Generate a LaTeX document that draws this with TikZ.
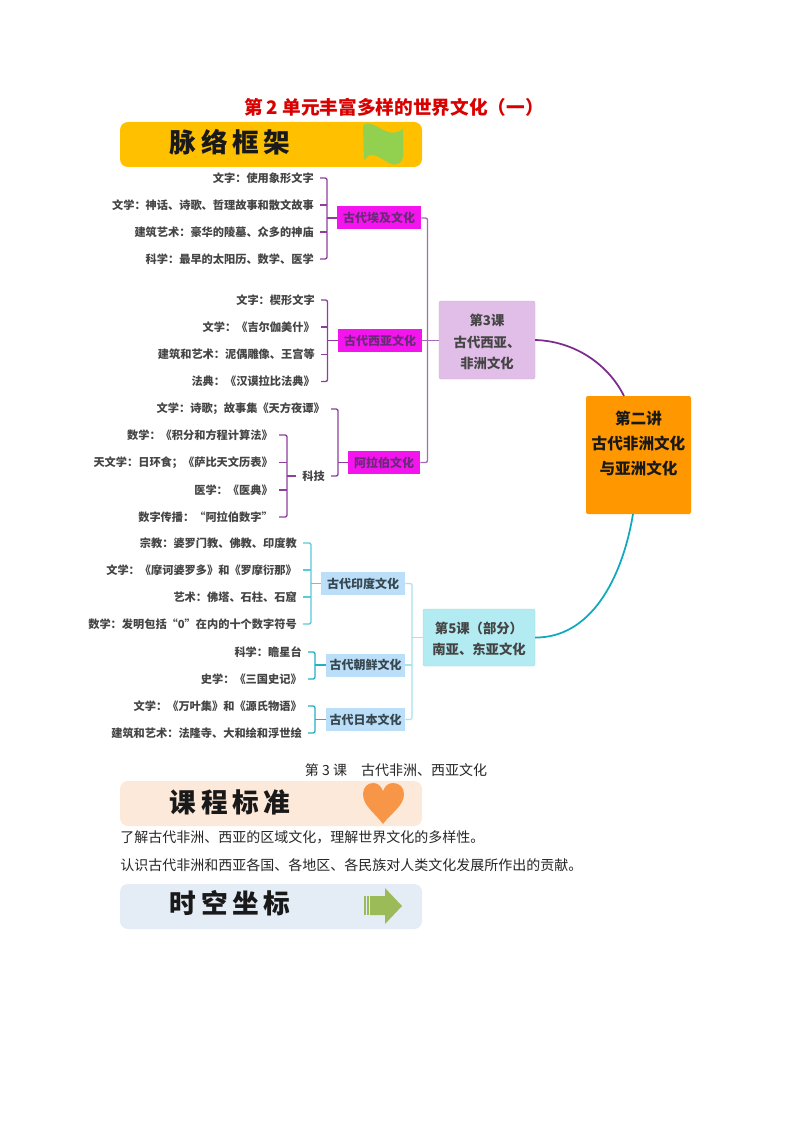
\documentclass[tikz,border=0pt]{standalone}
\usepackage{fontspec}
\setmainfont{Noto Sans CJK SC}
\definecolor{txt}{HTML}{454545}
\definecolor{purp}{HTML}{8E3F9E}
\definecolor{purpT}{HTML}{A56BB3}
\definecolor{curveP}{HTML}{7B2A8E}
\definecolor{tealA}{HTML}{5CCAD8}
\definecolor{tealB}{HTML}{22B0C6}
\definecolor{tealT}{HTML}{A6E3EC}
\definecolor{curveT}{HTML}{0FA9BE}
\definecolor{magbox}{HTML}{F414EE}
\definecolor{magtxt}{HTML}{6A2A78}
\definecolor{bluebox}{HTML}{BBDEF9}
\definecolor{ltxt}{HTML}{37474F}
\definecolor{bannerA}{HTML}{FFC000}
\definecolor{bannerB}{HTML}{FDE9D9}
\definecolor{bannerC}{HTML}{E4ECF6}
\definecolor{flagG}{HTML}{92D050}
\definecolor{heartO}{HTML}{F79646}
\definecolor{arrowG}{HTML}{9BBB59}
\definecolor{lessonP}{HTML}{E1BEE7}
\definecolor{lessonT}{HTML}{B2EBF2}
\definecolor{mainO}{HTML}{FF9800}
\tikzset{
  leaf/.style={anchor=east,inner xsep=4.5pt,inner ysep=1pt,text=txt,font=\fontsize{8.4}{10}\selectfont\bfseries},
  magnode/.style={fill=magbox,text=magtxt,inner sep=0pt,font=\fontsize{9}{10}\selectfont\bfseries,minimum height=23*0.75pt},
  bluenode/.style={fill=bluebox,text=ltxt,inner sep=0pt,font=\fontsize{9}{10}\selectfont\bfseries,minimum height=23*0.75pt},
  lesson/.style={rounded corners=1.5pt,text=txt,inner sep=0pt,align=center,font=\fontsize{10}{16}\selectfont\bfseries},
  banner/.style={rounded corners=6pt,inner sep=0pt,minimum width=302*0.75pt,minimum height=45*0.75pt},
  bantext/.style={inner sep=0pt,font=\fontsize{20}{24}\selectfont\bfseries,text=black!90},
  body/.style={inner sep=0pt,anchor=west,font=\fontsize{10.5}{12}\selectfont,text=black!85},
  conP/.style={draw=purp,line width=1pt,rounded corners=1.5pt},
  conPT/.style={draw=purpT,line width=1pt,rounded corners=1.5pt},
  conA/.style={draw=tealA,line width=1pt,rounded corners=1.5pt},
  conB/.style={draw=tealB,line width=1pt,rounded corners=1.5pt},
  conT/.style={draw=tealT,line width=0.9pt,rounded corners=1.5pt},
}
\begin{document}
\begin{tikzpicture}[x=0.75pt,y=-0.75pt]
\useasboundingbox (0,0) rectangle (794,1123);
\fill[white] (0,0) rectangle (794,1123);

% title
\node[inner sep=0pt,text=red!85!black,font=\fontsize{14}{16}\selectfont\bfseries] (title) at (394,107) {第 2 单元丰富多样的世界文化（一）};

% banners
\node[banner,fill=bannerA] (ban1) at (271,144.5) {};
\node[bantext] (ban1t) at (230,142) {脉\hspace{3.5pt}络\hspace{3.5pt}框\hspace{3.5pt}架};
\fill[flagG] (363,127) .. controls (363,122) and (370,123) .. (376,126)
  .. controls (384,130) and (392,137) .. (403,129)
  -- (403,157) .. controls (402,163) and (397,166) .. (391,164)
  .. controls (384,161) and (379,155) .. (372,155)
  .. controls (368,155) and (366,158) .. (364,160) -- cycle;

\node[banner,fill=bannerB] (ban2) at (271,803.5) {};
\node[bantext] (ban2t) at (230,802) {课\hspace{3.5pt}程\hspace{3.5pt}标\hspace{3.5pt}准};
\fill[heartO] (383,824) .. controls (375,813) and (363,806) .. (363,794)
  .. controls (363,787) and (368,783) .. (373,783)
  .. controls (378,783) and (381,786) .. (383,791)
  .. controls (385,786) and (388,783) .. (393,783)
  .. controls (399,783) and (404,787) .. (404,794)
  .. controls (404,806) and (391,813) .. (383,824) -- cycle;

\node[banner,fill=bannerC] (ban3) at (271,906.5) {};
\node[bantext] (ban3t) at (230,903) {时\hspace{3.5pt}空\hspace{3.5pt}坐\hspace{3.5pt}标};
\fill[arrowG] (363.5,896) rectangle (365.5,915);
\fill[arrowG] (366.5,896) rectangle (368.5,915);
\fill[arrowG] (370,896) -- (385,896) -- (385,888) -- (402,906) -- (385,924) -- (385,915) -- (370,915) -- cycle;

% central nodes
\node[lesson,fill=mainO,text=black!90,minimum width=105*0.75pt,minimum height=118*0.75pt,font=\fontsize{11.7}{18.75}\selectfont\bfseries] (main) at (638.5,455) {第二讲\\古代非洲文化\\与亚洲文化\\[0pt]\mbox{}};
\node[lesson,fill=lessonP,draw=lessonP!92!black,line width=0.3pt,minimum width=96*0.75pt,minimum height=78*0.75pt] (L3) at (487,340) {\rule{0pt}{11.8pt}第3课\\古代西亚、\\非洲文化};
\node[lesson,fill=lessonT,draw=lessonT!92!black,line width=0.3pt,minimum width=112*0.75pt,minimum height=57*0.75pt] (L5) at (479,637.5) {\rule{0pt}{10.3pt}第5课（部分）\\南亚、东亚文化};
\coordinate (mainTop) at (624,396);
\coordinate (mainBot) at (633,514);
\draw[curveP,line width=1.3pt] (L3.east) .. controls (572,341) and (607,362) .. (mainTop);
\draw[curveT,line width=1.3pt] (L5.east) .. controls (590,638) and (622,580) .. (mainBot);

% group boxes
\node[magnode,minimum width=84*0.75pt] (eg) at (379,218) {古代埃及文化};
\node[magnode,minimum width=84*0.75pt] (wa) at (380,340.5) {古代西亚文化};
\node[magnode,minimum width=72*0.75pt] (ar) at (384,462.5) {阿拉伯文化};
\node[bluenode,minimum width=84*0.75pt] (in) at (363,583.5) {古代印度文化};
\node[bluenode,minimum width=79*0.75pt] (ko) at (365.5,665) {古代朝鲜文化};
\node[bluenode,minimum width=79*0.75pt] (jp) at (365.5,719.5) {古代日本文化};

% leaves: Egypt
\node[leaf] (eg1) at (320,178) {文字：使用象形文字};
\node[leaf] (eg2) at (320,205) {文学：神话、诗歌、哲理故事和散文故事};
\node[leaf] (eg3) at (320,232) {建筑艺术：豪华的陵墓、众多的神庙};
\node[leaf] (eg4) at (320,259) {科学：最早的太阳历、数学、医学};
% West Asia
\node[leaf] (wa1) at (321,300) {文字：楔形文字};
\node[leaf] (wa2) at (321,327) {文学：《吉尔伽美什》};
\node[leaf] (wa3) at (321,354.5) {建筑和艺术：泥偶雕像、王宫等};
\node[leaf] (wa4) at (321,381.5) {法典：《汉谟拉比法典》};
% Arabic
\node[leaf] (ar1) at (331,409) {文学：诗歌；故事集《天方夜谭》};
\node[leaf] (ar2) at (331,476) {科技};
\node[leaf] (sc1) at (279,435) {数学：《积分和方程计算法》};
\node[leaf] (sc2) at (279,462.5) {天文学：日环食；《萨比天文历表》};
\node[leaf] (sc3) at (279,490) {医学：《医典》};
\node[leaf] (sc4) at (279,517) {数字传播：“阿拉伯数字”};
% India
\node[leaf] (in1) at (303,543) {宗教：婆罗门教、佛教、印度教};
\node[leaf] (in2) at (303,570) {文学：《摩诃婆罗多》和《罗摩衍那》};
\node[leaf] (in3) at (303,597) {艺术：佛塔、石柱、石窟};
\node[leaf] (in4) at (303,624) {数学：发明包括“0”在内的十个数字符号};
% Korea, Japan
\node[leaf] (ko1) at (308,652) {科学：瞻星台};
\node[leaf] (ko2) at (308,679) {史学：《三国史记》};
\node[leaf] (jp1) at (308,706) {文学：《万叶集》和《源氏物语》};
\node[leaf] (jp2) at (308,733) {建筑和艺术：法隆寺、大和绘和浮世绘};

% spine coordinates
\coordinate (egS) at (327,218);
\coordinate (waS) at (327.5,340.5);
\coordinate (arS) at (338,462.5);
\coordinate (scS) at (287,476);
\coordinate (inS) at (311,583.5);
\coordinate (koS) at (315,665);
\coordinate (jpS) at (315,719.5);
\coordinate (trP) at (427.5,340.5);
\coordinate (trT) at (412,637.5);

% purple connectors
\draw[conP] (eg1.east) -| (egS) |- (eg4.east);
\draw[conP] (eg2.east) -- (eg2.east -| egS);
\draw[conP] (eg3.east) -- (eg3.east -| egS);
\draw[conP] (egS) -- (eg.west);
\draw[conP] (wa1.east) -| (waS) |- (wa4.east);
\draw[conP] (wa2.east) -- (wa2.east -| waS);
\draw[conP] (wa3.east) -- (wa3.east -| waS);
\draw[conP] (waS) -- (wa.west);
\draw[conP] (ar1.east) -| (arS) |- (ar2.east);
\draw[conP] (arS) -- (ar.west);
\draw[conP] (sc1.east) -| (scS) |- (sc4.east);
\draw[conP] (sc2.east) -- (sc2.east -| scS);
\draw[conP] (sc3.east) -- (sc3.east -| scS);
\draw[conP] (scS) -- (ar2.west);
\draw[conPT] (eg.east) -| (trP) |- (ar.east);
\draw[conPT] (wa.east) -- (L3.west |- wa.east);

% teal connectors
\draw[conA] (in1.east) -| (inS) |- (in4.east);
\draw[conA] (in2.east) -- (in2.east -| inS);
\draw[conA] (in3.east) -- (in3.east -| inS);
\draw[conA] (inS) -- (in.west);
\draw[conB] (ko1.east) -| (koS) |- (ko2.east);
\draw[conB] (koS) -- (ko.west);
\draw[conB] (jp1.east) -| (jpS) |- (jp2.east);
\draw[conB] (jpS) -- (jp.west);
\draw[conT] (in.east) -| (trT) |- (jp.east);
\draw[conT] (ko.east) -- (ko.east -| trT);
\draw[conT] (trT) -- (L5.west);

% plain text
\node[inner sep=0pt,font=\fontsize{10.5}{12}\selectfont,text=black!85] (sub) at (396,770) {第 3 课　古代非洲、西亚文化};
\node[body] (std1) at (120,837) {了解古代非洲、西亚的区域文化，理解世界文化的多样性。};
\node[body] (std2) at (120,865) {认识古代非洲和西亚各国、各地区、各民族对人类文化发展所作出的贡献。};
\end{tikzpicture}
\end{document}
